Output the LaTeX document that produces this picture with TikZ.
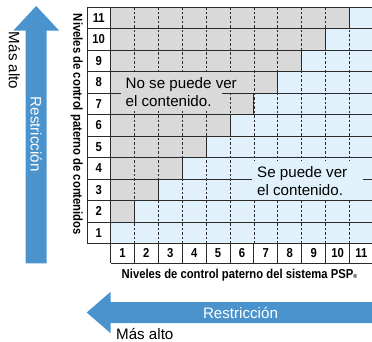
\documentclass[tikz,border=0pt]{standalone}
\usepackage{fontspec}
\setmainfont{Liberation Sans}
\newfontfamily\condfont[FakeStretch=0.87]{Liberation Sans}
\definecolor{cellgrey}{HTML}{D9D9D9}
\definecolor{cellblue}{HTML}{E1F1FB}
\definecolor{arrowblue}{HTML}{4A93CD}
\definecolor{gridline}{HTML}{2B2B2B}
\begin{document}
\begin{tikzpicture}[x=1bp,y=-1bp,
  solidline/.style={draw=gridline,line width=0.9bp},
  dashline/.style={draw=gridline,line width=0.8bp,dash pattern=on 2.5bp off 2bp},
  lbl/.style={font=\condfont\bfseries\fontsize{13}{13}\selectfont,inner sep=0pt},
  bigtext/.style={font=\fontsize{15.2}{18}\selectfont,inner sep=0pt}]
\useasboundingbox (0,0) rectangle (372,342);
\def\xo{110.5}\def\w{23.9}\def\yo{7}\def\h{21.5}
% cells
\foreach \r in {1,...,11}{
  \pgfmathsetmacro\yt{\yo+(11-\r)*\h}
  \pgfmathsetmacro\yb{\yt+\h}
  \pgfmathsetmacro\xs{\xo+(\r-1)*\w}
  \fill[cellgrey] (\xo,\yt) rectangle (\xs,\yb);
  \fill[cellblue] (\xs,\yt) rectangle (\xo+11*\w,\yb);
}
% dashed verticals
\foreach \k in {1,...,10}
  \draw[dashline] (\xo+\k*\w,\yo) -- (\xo+\k*\w,\yo+11*\h);
% horizontal row lines
\foreach \i in {0,...,11}
  \draw[solidline] (87,\yo+\i*\h) -- (\xo+11*\w,\yo+\i*\h);
% staircase
\foreach \r in {2,...,11}{
  \pgfmathsetmacro\yt{\yo+(11-\r)*\h}
  \pgfmathsetmacro\xs{\xo+(\r-1)*\w}
  \draw[solidline] (\xs,\yt) -- (\xs,\yt+\h);
}
% row label column
\draw[solidline] (87,\yo) rectangle (\xo,\yo+11*\h);
\foreach \r in {1,...,11}{
  \pgfmathsetmacro\yc{\yo+(11-\r)*\h+\h/2}
  \node[lbl] (r\r) at (98.75,\yc) {\r};
}
% column label row
\draw[solidline] (\xo,263.3) -- (\xo+11*\w,263.3);
\foreach \k in {0,...,11}
  \draw[solidline] (\xo+\k*\w,\yo+11*\h) -- (\xo+\k*\w,263.3);
\foreach \c in {1,...,11}{
  \pgfmathsetmacro\xc{\xo+(\c-0.5)*\w}
  \node[lbl] (c\c) at (\xc,253.4) {\c};
}
% text boxes
\fill[cellgrey] (121,72.3) rectangle (246,92);
\fill[cellgrey] (121,92) rectangle (222,111);
\node[bigtext,anchor=base west] (nosee1) at (125.5,88.3) {No se puede ver};
\node[bigtext,anchor=base west] (nosee2) at (125.5,106.7) {el contenido.};
\fill[cellblue] (252,161) rectangle (363,199.5);
\node[bigtext,anchor=base west] (see1) at (257,177.3) {Se puede ver};
\node[bigtext,anchor=base west] (see2) at (257,195.7) {el contenido.};
% axis labels
\node[lbl,rotate=-90] (vlabel) at (76.8,124.5) {Niveles de control paterno de contenidos};
\node[lbl,anchor=base] (hlabel) at (239.5,278.3) {Niveles de control paterno del sistema PSP{\fontsize{6}{6}\selectfont ®}};
% arrows
\fill[arrowblue] (25.7,263.3) -- (25.7,30.7) -- (13.2,30.7) -- (36.2,6) -- (59.2,30.7) -- (46.7,30.7) -- (46.7,263.3) -- cycle;
\fill[arrowblue] (372,302) -- (110.7,302) -- (110.7,291.7) -- (86.7,312.5) -- (110.7,333.3) -- (110.7,323) -- (372,323) -- cycle;
\node[bigtext,text=white,rotate=-90] (vrest) at (36.2,134.2) {Restricción};
\node[bigtext,rotate=-90] (vmas) at (14.4,60.6) {Más alto};
\node[bigtext,text=white,anchor=base] (hrest) at (240.5,318.3) {Restricción};
\node[bigtext,anchor=base west] (hmas) at (116,339.3) {Más alto};
\end{tikzpicture}
\end{document}
